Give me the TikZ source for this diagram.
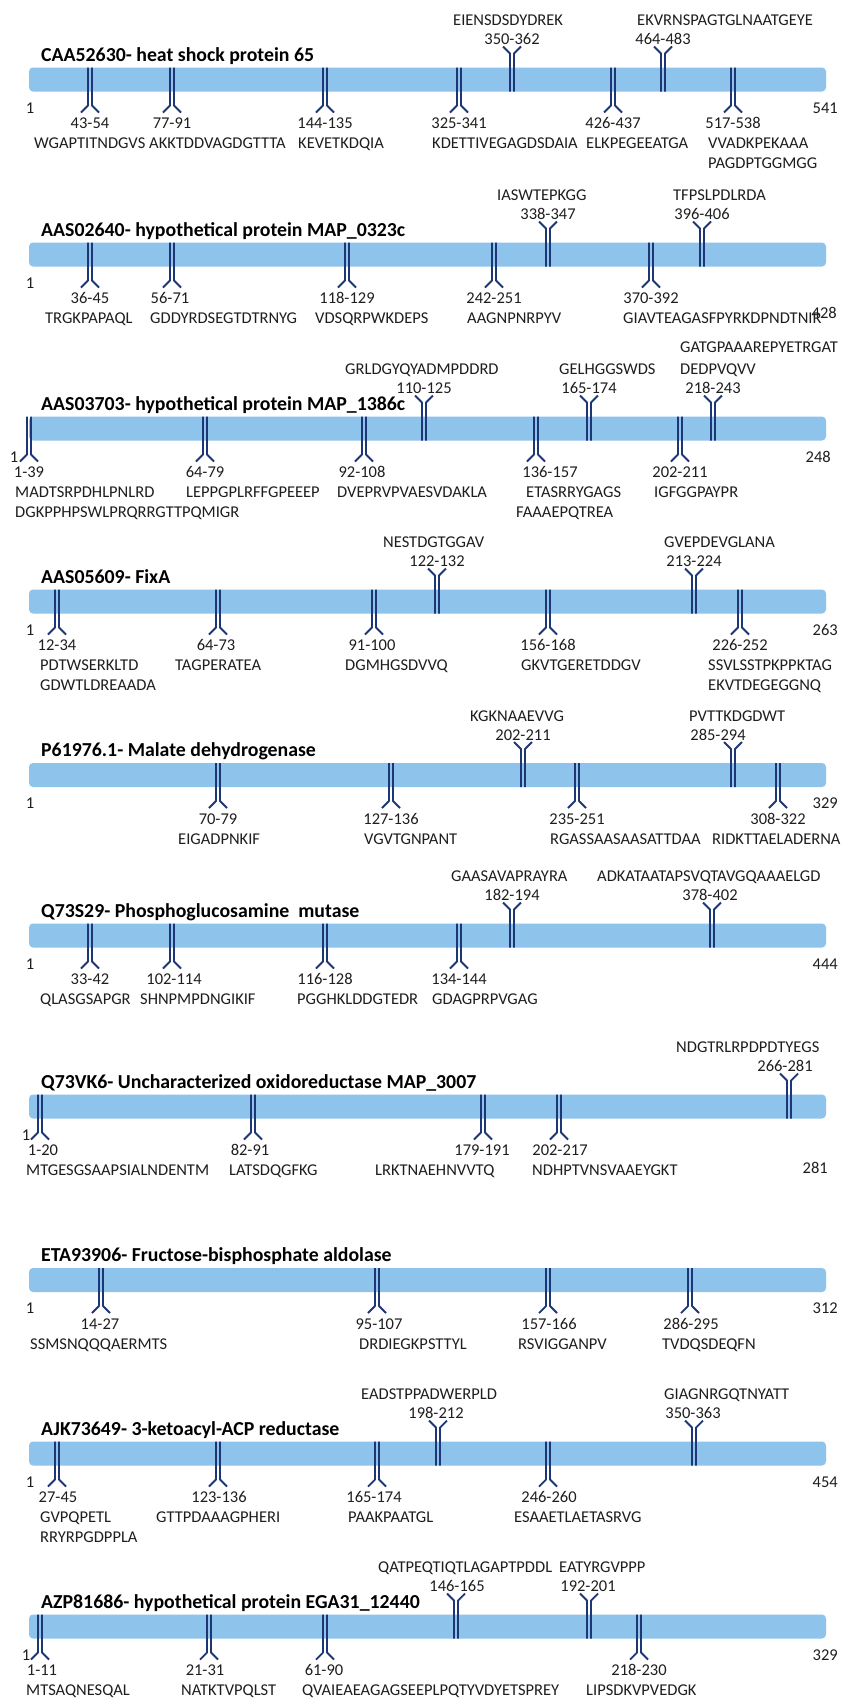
\documentclass[tikz,border=0pt]{standalone}
\usepackage{fontspec}
\setmainfont{Carlito}
\usetikzlibrary{positioning}
\definecolor{barblue}{RGB}{142,195,235}
\definecolor{epiblue}{RGB}{28,54,118}
\definecolor{txtgray}{RGB}{30,30,30}
\newcommand{\lblfont}{\fontsize{16.5}{19}\selectfont}
\newcommand{\ttlfont}{\fontsize{19.8}{23}\selectfont\bfseries}
\tikzset{
  protbar/.style={fill=barblue, rounded corners=4pt},
  epi/.style={draw=epiblue, line width=1.8pt, line join=round},
  rng/.style={font=\lblfont, text=txtgray, inner sep=0pt, anchor=base},
  seqlbl/.style={font=\lblfont, text=txtgray, inner sep=0pt, anchor=base west},
  endlbl/.style={font=\lblfont, text=txtgray, inner sep=0pt, anchor=base east},
  ttl/.style={font=\ttlfont, inner sep=0pt, anchor=base west},
}
% epitope below the bar: mark x / range x / range / sequence x / sequence
\newcommand{\epidown}[2]{%
  \foreach \x/\rx/\r/\sx/\s [count=\i] in {#2}{
    \draw[epi] (\x-2,-12) -- (\x-2,26) -- (\x-9,33);
    \draw[epi] (\x+2,-12) -- (\x+2,26) -- (\x+9,33);
    \node[rng] (#1d\i) at (\rx,49) {\r};
    \node[seqlbl] (#1ds\i) at (\sx,69) {\s};
  }}
% epitope above the bar
\newcommand{\epiup}[2]{%
  \foreach \x/\rx/\r/\sx/\s [count=\i] in {#2}{
    \draw[epi] (\x-2,12) -- (\x-2,-26) -- (\x-9,-33);
    \draw[epi] (\x+2,12) -- (\x+2,-26) -- (\x+9,-33);
    \node[rng] (#1u\i) at (\rx,-35) {\r};
    \node[seqlbl] (#1us\i) at (\sx,-54) {\s};
  }}
\begin{document}
\begin{tikzpicture}[x=1pt,y=-1pt]
  \fill[white] (0,0) rectangle (846,1698);
  \useasboundingbox (0,0) rectangle (846,1698);

  % CAA52630
  \begin{scope}[shift={(0,79.5)}]
    \fill[protbar] (29,-12) rectangle (826,12);
    \node[ttl] (ttl1) at (41,-18.5) {CAA52630- heat shock protein 65};
    \node[rng] (beg1) at (30,33.5) {1};
    \node[endlbl] (end1) at (838,33.5) {541};
    \epidown{p1}{90/90/43-54/34/WGAPTITNDGVS, 172/172/77-91/149/AKKTDDVAGDGTTTA,
      325/325/144-135/298/KEVETKDQIA, 459/459/325-341/432/KDETTIVEGAGDSDAIA,
      613/613/426-437/586/ELKPEGEEATGA, 733/733/517-538/708/VVADKPEKAAA}
    \node[seqlbl] (p1ds6b) at (708,89) {PAGDPTGGMGG};
    \epiup{p1}{512/512/350-362/453/EIENSDSDYDREK, 663/663/464-483/637/EKVRNSPAGTGLNAATGEYE}
  \end{scope}

  % AAS02640
  \begin{scope}[shift={(0,254.5)}]
    \fill[protbar] (29,-12) rectangle (826,12);
    \node[ttl] (ttl2) at (41,-18.5) {AAS02640- hypothetical protein MAP\_0323c};
    \node[rng] (beg2) at (30,33.5) {1};
    \epidown{p2}{90/90/36-45/45/TRGKPAPAQL, 172/170/56-71/150/GDDYRDSEGTDTRNYG,
      347/347/118-129/315/VDSQRPWKDEPS, 494/494/242-251/467/AAGNPNRPYV,
      651/651/370-392/623/GIAVTEAGASFPYRKDPNDTNIR}
    \node[endlbl] (end2) at (837,64) {428};
    \epiup{p2}{548/548/338-347/497/IASWTEPKGG, 702/702/396-406/673/TFPSLPDLRDA}
  \end{scope}

  % AAS03703
  \begin{scope}[shift={(0,428.5)}]
    \fill[protbar] (29,-12) rectangle (826,12);
    \node[ttl] (ttl3) at (41,-18.5) {AAS03703- hypothetical protein MAP\_1386c};
    \node[rng] (beg3) at (14,33.5) {1};
    \node[endlbl] (end3) at (831,33.5) {248};
    \epidown{p3}{29/29/1-39/15/MADTSRPDHLPNLRD, 205/205/64-79/186/LEPPGPLRFFGPEEEP,
      364/362/92-108/337/DVEPRVPVAESVDAKLA, 536/550/136-157/526/ETASRRYGAGS,
      680/680/202-211/654/IGFGGPAYPR}
    \node[seqlbl] (p3ds1b) at (15,89) {DGKPPHPSWLPRQRRGTTPQMIGR};
    \node[seqlbl] (p3ds4b) at (516,89) {FAAAEPQTREA};
    \epiup{p3}{424/424/110-125/345/GRLDGYQYADMPDDRD, 589/589/165-174/559/GELHGGSWDS,
      713/713/218-243/680/DEDPVQVV}
    \node[seqlbl] (p3us3a) at (680,-76) {GATGPAAAREPYETRGAT};
  \end{scope}

  % AAS05609
  \begin{scope}[shift={(0,601.5)}]
    \fill[protbar] (29,-12) rectangle (826,12);
    \node[ttl] (ttl4) at (41,-18.5) {AAS05609- FixA};
    \node[rng] (beg4) at (30,33.5) {1};
    \node[endlbl] (end4) at (838,33.5) {263};
    \epidown{p4}{57/57/12-34/40/PDTWSERKLTD, 218/216/64-73/175/TAGPERATEA,
      374/372/91-100/345/DGMHGSDVVQ, 548/548/156-168/521/GKVTGERETDDGV,
      740/740/226-252/708/SSVLSSTPKPPKTAG}
    \node[seqlbl] (p4ds1b) at (40,89) {GDWTLDREAADA};
    \node[seqlbl] (p4ds5b) at (708,89) {EKVTDEGEGGNQ};
    \epiup{p4}{437/437/122-132/383/NESTDGTGGAV, 694/694/213-224/664/GVEPDEVGLANA}
  \end{scope}

  % P61976.1
  \begin{scope}[shift={(0,775)}]
    \fill[protbar] (29,-12) rectangle (826,12);
    \node[ttl] (ttl5) at (41,-18.5) {P61976.1- Malate dehydrogenase};
    \node[rng] (beg5) at (30,33.5) {1};
    \node[endlbl] (end5) at (838,33.5) {329};
    \epidown{p5}{218/218/70-79/178/EIGADPNKIF, 391/391/127-136/364/VGVTGNPANT,
      577/577/235-251/550/RGASSAASAASATTDAA, 778/778/308-322/712/RIDKTTAELADERNA}
    \epiup{p5}{523/523/202-211/470/KGKNAAEVVG, 733/718/285-294/689/PVTTKDGDWT}
  \end{scope}

  % Q73S29
  \begin{scope}[shift={(0,935.5)}]
    \fill[protbar] (29,-12) rectangle (826,12);
    \node[ttl] (ttl6) at (41,-18.5) {Q73S29- Phosphoglucosamine~ mutase};
    \node[rng] (beg6) at (30,33.5) {1};
    \node[endlbl] (end6) at (838,33.5) {444};
    \epidown{p6}{90/90/33-42/40/QLASGSAPGR, 172/174/102-114/140/SHNPMPDNGIKIF,
      325/325/116-128/297/PGGHKLDDGTEDR, 459/459/134-144/432/GDAGPRPVGAG}
    \epiup{p6}{512/512/182-194/451/GAASAVAPRAYRA, 712/710/378-402/597/ADKATAATAPSVQTAVGQAAAELGD}
  \end{scope}

  % Q73VK6
  \begin{scope}[shift={(0,1106.5)}]
    \fill[protbar] (29,-12) rectangle (826,12);
    \node[ttl] (ttl7) at (41,-18.5) {Q73VK6- Uncharacterized oxidoreductase MAP\_3007};
    \node[rng] (beg7) at (26,33.5) {1};
    \node[endlbl] (end7) at (828,66.5) {281};
    \epidown{p7}{40/43/1-20/26/MTGESGSAAPSIALNDENTM, 253/250/82-91/229/LATSDQGFKG,
      483/482/179-191/375/LRKTNAEHNVVTQ, 559/560/202-217/532/NDHPTVNSVAAEYGKT}
    \epiup{p7}{789/785/266-281/676/NDGTRLRPDPDTYEGS}
  \end{scope}

  % ETA93906
  \begin{scope}[shift={(0,1280)}]
    \fill[protbar] (29,-12) rectangle (826,12);
    \node[ttl] (ttl8) at (41,-18.5) {ETA93906- Fructose-bisphosphate aldolase};
    \node[rng] (beg8) at (30,33.5) {1};
    \node[endlbl] (end8) at (838,33.5) {312};
    \epidown{p8}{101/100/14-27/30/SSMSNQQQAERMTS, 377/379/95-107/359/DRDIEGKPSTTYL,
      548/549/157-166/518/RSVIGGANPV, 690/691/286-295/662/TVDQSDEQFN}
  \end{scope}

  % AJK73649
  \begin{scope}[shift={(0,1453.5)}]
    \fill[protbar] (29,-12) rectangle (826,12);
    \node[ttl] (ttl9) at (41,-18.5) {AJK73649- 3-ketoacyl-ACP reductase};
    \node[rng] (beg9) at (30,33.5) {1};
    \node[endlbl] (end9) at (838,33.5) {454};
    \epidown{p9}{57/58/27-45/40/GVPQPETL, 218/219/123-136/156/GTTPDAAAGPHERI,
      377/374/165-174/348/PAAKPAATGL, 548/549/246-260/514/ESAAETLAETASRVG}
    \node[seqlbl] (p9ds1b) at (40,89) {RRYRPGDPPLA};
    \epiup{p9}{438/436/198-212/361/EADSTPPADWERPLD, 694/693/350-363/664/GIAGNRGQTNYATT}
  \end{scope}

  % AZP81686
  \begin{scope}[shift={(0,1626.5)}]
    \fill[protbar] (29,-12) rectangle (826,12);
    \node[ttl] (ttl10) at (41,-18.5) {AZP81686- hypothetical protein EGA31\_12440};
    \node[rng] (beg10) at (26,33.5) {1};
    \node[endlbl] (end10) at (838,33.5) {329};
    \epidown{p10}{40/42/1-11/26/MTSAQNESQAL, 209/205/21-31/181/NATKTVPQLST,
      325/324/61-90/302/QVAIEAEAGAGSEEPLPQTYVDYETSPREY, 639/639/218-230/586/LIPSDKVPVEDGK}
    \epiup{p10}{456/457/146-165/378/QATPEQTIQTLAGAPTPDDL, 589/588/192-201/559/EATYRGVPPP}
  \end{scope}
\end{tikzpicture}
\end{document}
